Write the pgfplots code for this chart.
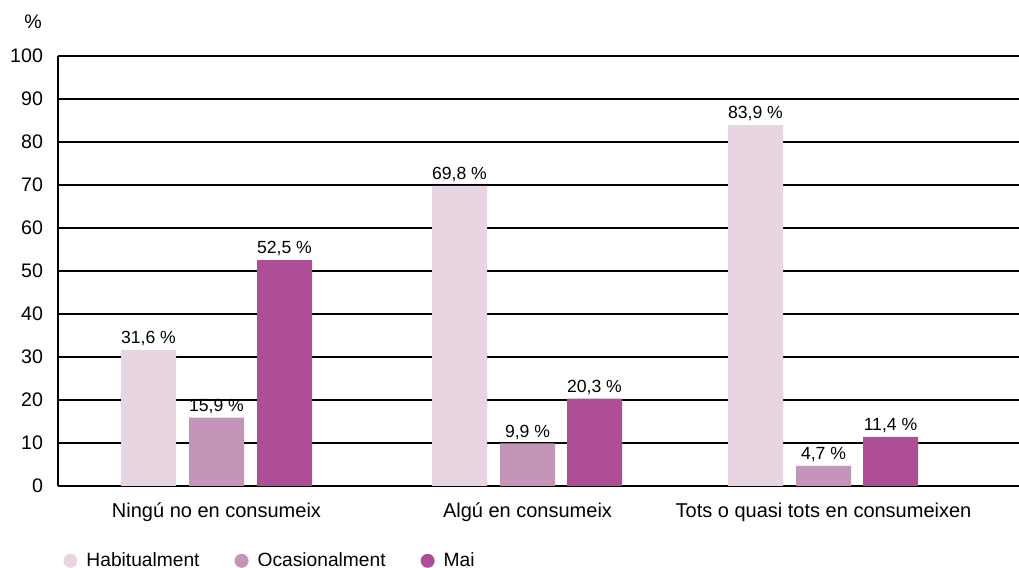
\documentclass[border=0pt]{standalone}
\usepackage{pgfplots}
\pgfplotsset{compat=1.18}
\usepackage{fontspec}
\setmainfont{Liberation Sans}
\definecolor{hab}{RGB}{231,214,226}
\definecolor{oca}{RGB}{197,149,185}
\definecolor{mai}{RGB}{174,78,150}
\begin{document}
\begin{tikzpicture}
\path[use as bounding box] (0pt,0pt) rectangle (509.5pt,284pt);
\begin{axis}[
  at={(29pt,41pt)}, anchor=south west,
  scale only axis,
  width=480.5pt, height=215pt,
  xmin=58, xmax=1019, ymin=0, ymax=100,
  axis x line=bottom, axis y line=left,
  axis line style={-, line width=0.6pt, black},
  ytick={0,10,...,100},
  ymajorgrids, grid style={black, line width=0.6pt},
  xtick={216.5,527.5,823.5},
  xticklabels={Ningú no en consumeix, Algú en consumeix, Tots o quasi tots en consumeixen},
  major tick length=0pt,
  x tick label style={font=\fontsize{10}{12}\selectfont, yshift=-5pt, anchor=north},
  y tick label style={font=\fontsize{9.8}{12}\selectfont, xshift=-4pt},
  /pgf/number format/assume math mode=true,
  ybar, bar width=55, bar shift=0pt,
  nodes near coords={\pgfmathprintnumber[fixed,fixed zerofill,precision=1,use comma]{\pgfplotspointmeta}~\%},
  every node near coord/.append style={font=\fontsize{8.8}{10}\selectfont, black, yshift=-1.5pt},
  legend style={at={(axis description cs:-0.002,-0.174)}, anchor=west, draw=none, fill=none,
    legend columns=3, font=\fontsize{9.6}{12}\selectfont,
    /tikz/every even column/.append style={column sep=15pt}},
  legend image code/.code={\fill[#1] (4pt,0pt) circle (3.5pt); \path (0pt,0pt) (10pt,0pt);},
  clip=false,
]
\addplot[fill=hab, draw=none] coordinates {(148.5,31.6) (459.5,69.8) (755.5,83.9)};
\addplot[fill=oca, draw=none] coordinates {(216.5,15.9) (527.5,9.9) (823.5,4.7)};
\addplot[fill=mai, draw=none] coordinates {(284.5,52.5) (594.5,20.3) (890.5,11.4)};
\legend{Habitualment, Ocasionalment, Mai}
\node[font=\fontsize{9.8}{12}\selectfont] at (axis description cs:-0.026,1.08) {\%};
\end{axis}
\end{tikzpicture}
\end{document}
